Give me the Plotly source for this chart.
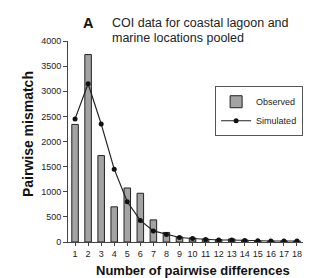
import plotly.graph_objects as go

differences = list(range(1, 19))
observed = [2340, 3730, 1720, 700, 1075, 970, 440, 190, 100, 80, 60, 50, 60, 40, 20, 20, 20, 20]
simulated = [2450, 3150, 2350, 1450, 800, 430, 220, 150, 90, 70, 50, 40, 40, 30, 25, 20, 20, 20]
y_ticks = [0, 500, 1000, 1500, 2000, 2500, 3000, 3500, 4000]
title_lines = ["COI data for coastal lagoon and", "marine locations pooled"]

font = "Liberation Sans, Arial, sans-serif"

fig = go.Figure()
fig.add_trace(go.Bar(
    x=differences, y=observed, name="Observed", width=0.5,
    marker=dict(color="#a3a3a3", line=dict(color="#222222", width=1)),
))
fig.add_trace(go.Scatter(
    x=differences, y=simulated, name="Simulated", mode="lines+markers",
    line=dict(color="#222222", width=1.2),
    marker=dict(color="#111111", size=5),
))

fig.update_layout(
    width=307, height=270,
    margin=dict(l=60, r=12, t=33, b=36, autoexpand=False),
    paper_bgcolor="white", plot_bgcolor="white",
    font=dict(family=font, size=10, color="#222222"),
    showlegend=True,
    legend=dict(
        x=0.626, y=0.775, xanchor="left", yanchor="top",
        bordercolor="#555555", borderwidth=1, bgcolor="white",
        font=dict(size=9), tracegroupgap=0, itemwidth=30,
    ),
    bargap=0.5,
)
fig.update_xaxes(
    range=[0.46, 18.46], tickmode="array", tickvals=differences,
    ticks="outside", ticklen=3, showline=True, linecolor="#444444",
    showgrid=False, zeroline=False, tickfont=dict(size=9), tickangle=0,
    automargin=False,
)
fig.update_yaxes(
    range=[0, 4000], tickmode="array", tickvals=y_ticks,
    ticks="outside", ticklen=4, showline=True, linecolor="#444444",
    showgrid=False, zeroline=False, tickfont=dict(size=9), automargin=False,
)
fig.add_annotation(
    xref="paper", yref="paper", x=0.532, y=-0.144, xanchor="center", yanchor="middle",
    text="<b>Number of pairwise differences</b>", showarrow=False,
    font=dict(size=13, color="#111111"),
)
fig.add_annotation(
    xref="paper", yref="paper", x=-0.17, y=0.537, xanchor="center", yanchor="middle",
    text="<b>Pairwise mismatch</b>", showarrow=False, textangle=-90,
    font=dict(size=14, color="#111111"),
)
fig.add_annotation(
    xref="paper", yref="paper", x=0.055, y=1.09, xanchor="left", yanchor="middle",
    text="<b>A</b>", showarrow=False, font=dict(size=14.5, color="#111111"),
)
fig.add_annotation(
    xref="paper", yref="paper", x=0.179, y=1.0915, xanchor="left", yanchor="middle",
    text=title_lines[0], showarrow=False, font=dict(size=12.5, color="#222222"),
)
fig.add_annotation(
    xref="paper", yref="paper", x=0.179, y=1.017, xanchor="left", yanchor="middle",
    text=title_lines[1], showarrow=False, font=dict(size=12.5, color="#222222"),
)

fig.write_html("out.html")
